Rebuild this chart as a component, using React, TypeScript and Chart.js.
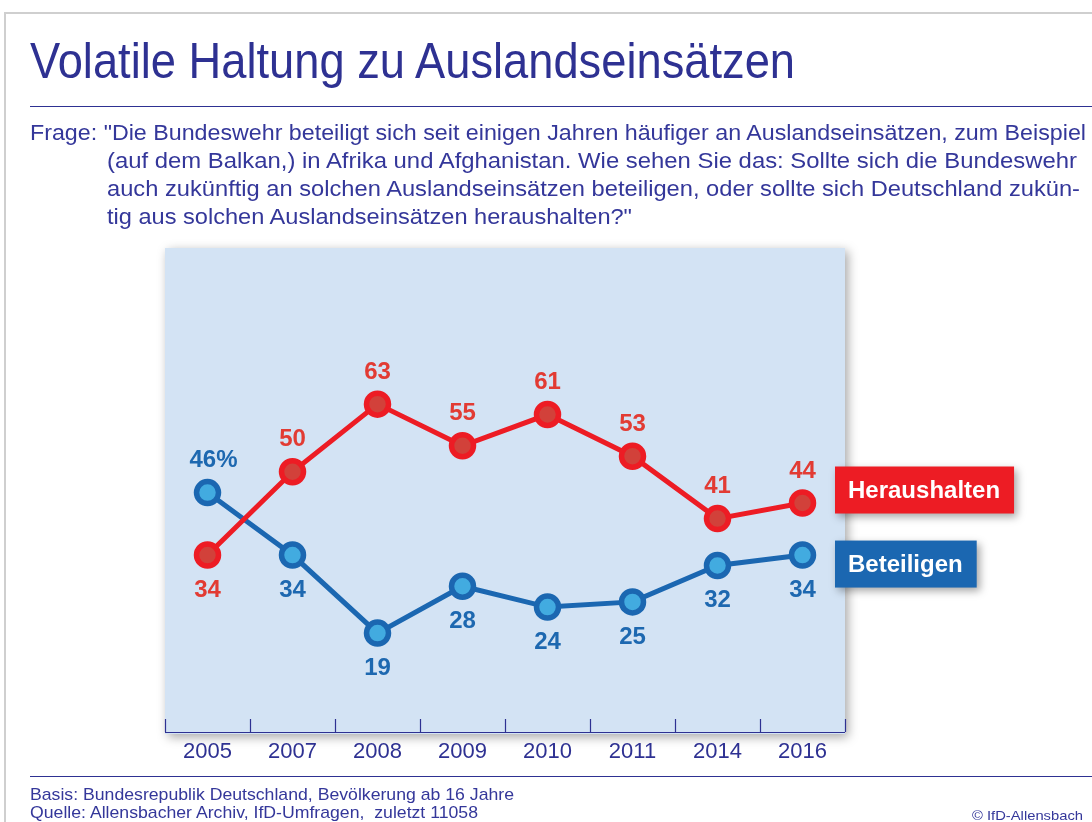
import React, { useEffect, useLayoutEffect, useRef } from "react";
import { Chart, registerables } from "chart.js";

Chart.register(...registerables);

// ---------- data ----------
const years = ["2005", "2007", "2008", "2009", "2010", "2011", "2014", "2016"];
const heraushalten = [34, 50, 63, 55, 61, 53, 41, 44];
const beteiligen = [46, 34, 19, 28, 24, 25, 32, 34];
const seriesNames = ["Heraushalten", "Beteiligen"];
const percentSeriesIndex = 1; // series whose first label carries "%"
const yMin = 0;
const yMax = 93;

const TITLE = "Volatile Haltung zu Auslandseinsätzen";
const QUESTION_LINES = [
  "Frage: \"Die Bundeswehr beteiligt sich seit einigen Jahren häufiger an Auslandseinsätzen, zum Beispiel",
  "(auf dem Balkan,) in Afrika und Afghanistan. Wie sehen Sie das: Sollte sich die Bundeswehr",
  "auch zukünftig an solchen Auslandseinsätzen beteiligen, oder sollte sich Deutschland zukün-",
  "tig aus solchen Auslandseinsätzen heraushalten?\"",
];
const FOOTER_BASIS = "Basis: Bundesrepublik Deutschland, Bevölkerung ab 16 Jahre";
const FOOTER_QUELLE = "Quelle: Allensbacher Archiv, IfD-Umfragen,  zuletzt 11058";
const COPYRIGHT = "© IfD-Allensbach";

// ---------- styles ----------
const INDIGO = "#2e3192";
const TEXT_BLUE = "#34379a";
const RED = "#ed1c24";
const RED_FILL = "#d2413a";
const RED_LABEL = "#e23b33";
const BLUE = "#1b67b1";
const BLUE_FILL = "#42abe0";
const BLUE_LABEL = "#1d68b0";
const PANEL = "#d3e3f4";
const FONT = "'Liberation Sans', Arial, sans-serif";

function FitText(props: {
  text: string;
  left: number;
  top: number;
  size: number;
  width: number;
  color: string;
}) {
  const ref = useRef<HTMLDivElement>(null);
  useLayoutEffect(() => {
    const el = ref.current;
    if (!el) return;
    el.style.transform = "none";
    const w = el.getBoundingClientRect().width;
    if (w > 0) el.style.transform = `scaleX(${props.width / w})`;
  });
  return (
    <div
      ref={ref}
      style={{
        position: "absolute",
        left: props.left,
        top: props.top,
        fontSize: props.size,
        lineHeight: `${props.size}px`,
        whiteSpace: "pre",
        fontFamily: FONT,
        color: props.color,
        transformOrigin: "0 0",
        zIndex: 2,
      }}
    >
      {props.text}
    </div>
  );
}

const panelPlugin = {
  id: "panelPlugin",
  beforeDraw(chart: any) {
    const { ctx, chartArea: a } = chart;
    ctx.save();
    ctx.shadowColor = "rgba(0,0,0,0.35)";
    ctx.shadowBlur = 10;
    ctx.shadowOffsetX = 3;
    ctx.shadowOffsetY = 3;
    ctx.fillStyle = PANEL;
    ctx.fillRect(a.left, a.top, a.right - a.left, a.bottom - a.top + 2);
    ctx.restore();
  },
  beforeDatasetsDraw(chart: any) {
    const { ctx, chartArea: a } = chart;
    const xs = chart.scales.x;
    const n = xs.ticks.length;
    const step = n > 1 ? xs.getPixelForValue(1) - xs.getPixelForValue(0) : a.right - a.left;
    ctx.save();
    ctx.strokeStyle = INDIGO;
    ctx.lineWidth = 1.2;
    ctx.beginPath();
    ctx.moveTo(a.left, a.bottom + 0.5);
    ctx.lineTo(a.right, a.bottom + 0.5);
    for (let i = 0; i <= n; i++) {
      const px = Math.round(xs.getPixelForValue(0) - step / 2 + i * step) + 0.5;
      ctx.moveTo(px, a.bottom - 13);
      ctx.lineTo(px, a.bottom);
    }
    ctx.stroke();
    ctx.restore();
  },
  afterDatasetsDraw(chart: any) {
    const { ctx } = chart;
    const ds = chart.data.datasets;
    ctx.save();
    ctx.font = `bold 24px ${FONT}`;
    ctx.textAlign = "center";
    ctx.textBaseline = "middle";
    ds.forEach((d: any, di: number) => {
      const meta = chart.getDatasetMeta(di);
      const other = ds[1 - di].data;
      meta.data.forEach((pt: any, i: number) => {
        const v = d.data[i];
        const above = v >= other[i];
        const txt = `${v}${di === percentSeriesIndex && i === 0 ? "%" : ""}`;
        ctx.fillStyle = di === 0 ? RED_LABEL : BLUE_LABEL;
        ctx.fillText(txt, pt.x + (txt.length > 2 ? 6 : 0), pt.y + (above ? -32 : 35));
      });
    });
    ctx.restore();
  },
  afterDraw(chart: any) {
    const { ctx, chartArea: a } = chart;
    const ds = chart.data.datasets;
    ctx.save();
    ctx.font = `bold 24px ${FONT}`;
    ctx.textBaseline = "middle";
    ctx.textAlign = "left";
    ds.forEach((d: any, di: number) => {
      const meta = chart.getDatasetMeta(di);
      const last = meta.data[meta.data.length - 1];
      const lastV = d.data[d.data.length - 1];
      const otherV = ds[1 - di].data[d.data.length - 1];
      const cy = last.y + (lastV >= otherV ? -13 : 9);
      const label = d.label;
      const tw = ctx.measureText(label).width;
      const h = 47;
      const left = a.right - 10;
      const w = tw + 27;
      ctx.save();
      ctx.shadowColor = "rgba(0,0,0,0.35)";
      ctx.shadowBlur = 8;
      ctx.shadowOffsetX = 3;
      ctx.shadowOffsetY = 3;
      ctx.fillStyle = di === 0 ? RED : BLUE;
      ctx.fillRect(left, cy - h / 2, w, h);
      ctx.restore();
      ctx.fillStyle = "#ffffff";
      ctx.fillText(label, left + 13, cy + 1);
    });
    ctx.restore();
  },
};

export default function App() {
  const canvasRef = useRef<HTMLCanvasElement>(null);

  useEffect(() => {
    const canvas = canvasRef.current;
    if (!canvas) return;
    const chart = new Chart(canvas, {
      type: "line",
      data: {
        labels: years,
        datasets: [
          {
            label: seriesNames[0],
            data: heraushalten,
            borderColor: RED,
            borderWidth: 5,
            pointRadius: 11,
            pointBorderWidth: 5.5,
            pointBackgroundColor: RED_FILL,
            pointBorderColor: RED,
            tension: 0,
          },
          {
            label: seriesNames[1],
            data: beteiligen,
            borderColor: BLUE,
            borderWidth: 5,
            pointRadius: 11,
            pointBorderWidth: 5.5,
            pointBackgroundColor: BLUE_FILL,
            pointBorderColor: BLUE,
            tension: 0,
          },
        ],
      },
      options: {
        animation: false,
        responsive: false,
        layout: { padding: { left: 165, right: 247, top: 248, bottom: 0 } },
        plugins: {
          legend: { display: false },
          tooltip: { enabled: false },
        },
        scales: {
          x: {
            type: "category",
            offset: true,
            grid: { display: false, drawTicks: false },
            border: { display: false },
            ticks: {
              color: INDIGO,
              font: { family: FONT, size: 22 },
              padding: 7,
              maxRotation: 0,
            },
            afterFit: (scale: any) => {
              scale.height = 90;
            },
          },
          y: {
            display: false,
            min: yMin,
            max: yMax,
          },
        },
      },
      plugins: [panelPlugin],
    });
    return () => chart.destroy();
  }, []);

  return (
    <div
      style={{
        position: "absolute",
        left: 0,
        top: 0,
        width: 1092,
        height: 822,
        overflow: "hidden",
        background: "#ffffff",
      }}
    >
      <div
        style={{
          position: "absolute",
          left: 4,
          top: 12,
          width: 1200,
          height: 900,
          borderTop: "2px solid #cfcfcf",
          borderLeft: "2px solid #cfcfcf",
        }}
      />
      <canvas
        ref={canvasRef}
        width={1092}
        height={822}
        style={{ position: "absolute", left: 0, top: 0, width: 1092, height: 822, zIndex: 1 }}
      />
      <FitText text={TITLE} left={30} top={36} size={50} width={765} color={INDIGO} />
      <div style={{ position: "absolute", left: 30, top: 106, width: 1070, borderTop: `1.5px solid ${INDIGO}`, zIndex: 2 }} />
      <FitText text={QUESTION_LINES[0]} left={30} top={122} size={22} width={1056} color={TEXT_BLUE} />
      <FitText text={QUESTION_LINES[1]} left={107} top={150} size={22} width={970} color={TEXT_BLUE} />
      <FitText text={QUESTION_LINES[2]} left={107} top={178} size={22} width={973} color={TEXT_BLUE} />
      <FitText text={QUESTION_LINES[3]} left={107} top={206} size={22} width={525} color={TEXT_BLUE} />
      <div style={{ position: "absolute", left: 30, top: 776, width: 1070, borderTop: `1.5px solid ${INDIGO}`, zIndex: 2 }} />
      <FitText text={FOOTER_BASIS} left={30} top={786} size={17} width={484} color={TEXT_BLUE} />
      <FitText text={FOOTER_QUELLE} left={30} top={804} size={17} width={448} color={TEXT_BLUE} />
      <FitText text={COPYRIGHT} left={972} top={809} size={13} width={111} color={TEXT_BLUE} />
    </div>
  );
}
